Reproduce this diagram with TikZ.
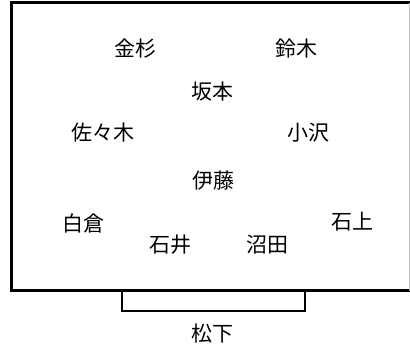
\documentclass[tikz,border=0pt]{standalone}
\usepackage{fontspec}
\newfontfamily\jp{Noto Sans CJK JP}
\begin{document}
\begin{tikzpicture}[x=1pt,y=-1pt,
  nm/.style={font=\jp\fontsize{21}{21}\selectfont, inner sep=0pt, anchor=center},
  wall/.style={line width=3pt, line cap=rect},
  thin wall/.style={line width=2pt}]
\useasboundingbox (0,0) rectangle (410,346);
% room
\coordinate (tl) at (11,2.5);
\coordinate (bl) at (11,290.5);
\coordinate (tr) at (410,2.5);
\coordinate (br) at (410,290.5);
\draw[wall] (tr) -- (tl) -- (bl) -- (br);
\draw[line width=0.6pt, black!25] (409,2.5) -- (409,290.5);
% desk
\coordinate (d1) at (122,290.5);
\coordinate (d2) at (122,310.5);
\coordinate (d3) at (305,310.5);
\coordinate (d4) at (305,290.5);
\draw[thin wall] (d1) -- (d2) -- (d3) -- (d4);
% names
\node[nm] (kanesugi) at (135,49) {金杉};
\node[nm] (suzuki) at (296,49) {鈴木};
\node[nm] (sakamoto) at (212,92) {坂本};
\node[nm] (sasaki) at (103,133) {佐々木};
\node[nm] (ozawa) at (308,133) {小沢};
\node[nm] (ito) at (213,181) {伊藤};
\node[nm] (shirakura) at (83,223) {白倉};
\node[nm] (ishigami) at (352,222) {石上};
\node[nm] (ishii) at (170,245) {石井};
\node[nm] (numata) at (267,245) {沼田};
\node[nm] (matsushita) at (212,334) {松下};
\end{tikzpicture}
\end{document}
